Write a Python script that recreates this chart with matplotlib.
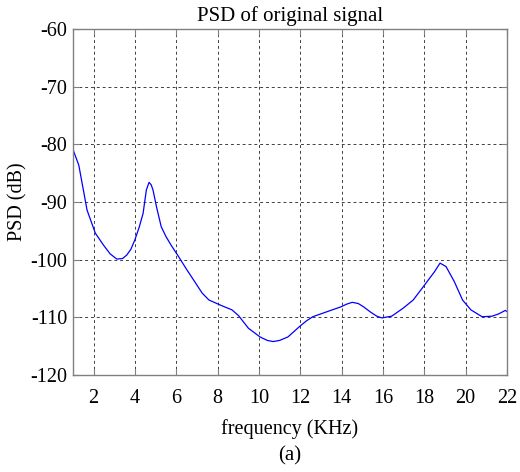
import matplotlib.pyplot as plt

# PSD curve (frequency in KHz, PSD in dB)
freq = [1.0, 1.04, 1.28, 1.68, 2.08, 2.48, 2.8, 3.12, 3.4, 3.6, 3.8, 3.99, 4.2, 4.39,
        4.55, 4.68, 4.78, 4.87, 5.05, 5.27, 5.5, 5.75, 6.06, 6.5, 6.94, 7.25, 7.58,
        8.21, 8.69, 9.01, 9.49, 10.05, 10.4, 10.68, 11.0, 11.4, 11.96, 12.3, 12.6,
        13.31, 13.95, 14.25, 14.51, 14.8, 15.07, 15.4, 15.7, 15.94, 16.42, 16.98,
        17.46, 18.01, 18.49, 18.76, 19.05, 19.45, 19.85, 20.25, 20.8, 21.28, 21.6,
        21.92, 22.0]
psd = [-80.8, -81.3, -83.6, -91.4, -95.4, -97.5, -99.0, -99.9, -99.8, -99.2, -98.2,
       -96.6, -94.4, -92.0, -87.9, -86.6, -87.0, -87.9, -91.0, -94.3, -96.0, -97.5,
       -99.2, -101.7, -104.1, -105.8, -107.0, -108.0, -108.7, -109.7, -111.9,
       -113.4, -114.0, -114.2, -114.0, -113.4, -111.6, -110.6, -109.9, -109.0,
       -108.2, -107.7, -107.4, -107.6, -108.2, -109.1, -109.8, -110.1, -109.8,
       -108.4, -107.0, -104.4, -102.1, -100.6, -101.2, -103.8, -107.0, -108.7,
       -109.9, -109.8, -109.4, -108.8, -109.0]

x_ticks = list(range(2, 23, 2))
y_ticks = list(range(-120, -59, 10))

plt.rcParams['font.family'] = ['Liberation Serif', 'DejaVu Serif']
plt.rcParams['axes.unicode_minus'] = False

fig = plt.figure(figsize=(5.2, 4.72), dpi=100)
ax = fig.add_axes([73 / 520, 1 - 375 / 472, (507 - 73) / 520, (375 - 29) / 472])

ax.plot(freq, psd, color='#0000ff', linewidth=0.9)

ax.set_xlim(1, 22)
ax.set_ylim(-120, -60)
ax.set_xticks(x_ticks)
ax.set_yticks(y_ticks)
ax.tick_params(direction='in', length=4, color='#808080', labelsize=14.5,
               top=True, right=True)
ax.tick_params(axis='x', pad=10)
ax.tick_params(axis='y', pad=4)
ax.grid(True, linestyle=(0, (3, 3)), color='#404040', linewidth=0.7)
for s in ax.spines.values():
    s.set_color('#808080')
    s.set_linewidth(1.0)

ax.set_title('PSD of original signal', fontsize=15, pad=6)
ax.set_xlabel('frequency (KHz)', fontsize=14.5, labelpad=8)
ax.set_ylabel('PSD (dB)', fontsize=14.5, labelpad=2)
fig.text(0.5 * (73 + 507) / 520, 1 - 456 / 472, '(a)', fontsize=15, ha='center', va='center')

fig.savefig('out.png', dpi=100)
